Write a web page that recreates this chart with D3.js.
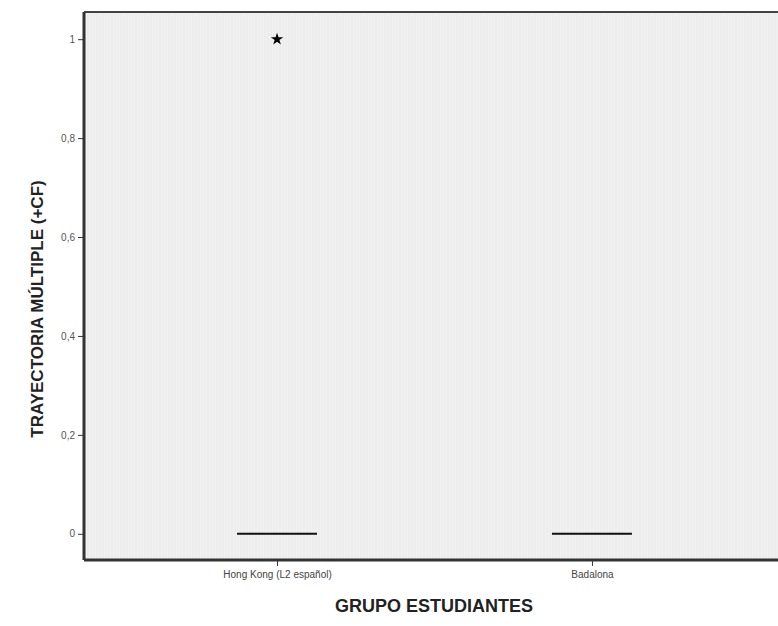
<!DOCTYPE html>
<html>
<head>
<meta charset="utf-8">
<script src="https://cdn.jsdelivr.net/npm/d3@7"></script>
<style>
  body { margin: 0; background: #fff; }
  svg { display: block; }
</style>
</head>
<body>
<svg width="778" height="626"></svg>
<script>
// groups and box stats (all zero except one extreme case)
var groups = ["Hong Kong (L2 español)", "Badalona"];
var q1 = [0, 0];
var median = [0, 0];
var q3 = [0, 0];
var whiskLo = [0, 0];
var whiskHi = [0, 0];
var extremes = [[1], []];
var yTicks = [0, 0.2, 0.4, 0.6, 0.8, 1];

var svg = d3.select("svg"),
  margin = { top: 12, right: -7, bottom: 66, left: 84 },
  width = +svg.attr("width") - margin.left - margin.right,
  height = +svg.attr("height") - margin.top - margin.bottom;

var x = d3.scalePoint().domain(groups).range([0, width]).padding(0.613),
    y = d3.scaleLinear().domain([-0.053, 1.055]).range([height, 0]);

var g = svg.append("g")
  .attr("transform", "translate(" + margin.left + "," + margin.top + ")");

// plot background
g.append("rect")
  .attr("width", width)
  .attr("height", height)
  .attr("fill", "#f1f1f1");

// faint vertical hatching
g.append("g").selectAll("line")
  .data(d3.range(1, width, 3))
  .enter().append("line")
  .attr("x1", function(d) { return d; })
  .attr("x2", function(d) { return d; })
  .attr("y1", 0)
  .attr("y2", height)
  .attr("stroke", "#e9e9e9")
  .attr("stroke-width", 1);

// top border
g.append("line")
  .attr("x1", 0).attr("x2", width)
  .attr("y1", 0).attr("y2", 0)
  .attr("stroke", "#444").attr("stroke-width", 2);

var boxW = 80;
var boxes = g.selectAll(".box").data(groups).enter().append("g").attr("class", "box");

boxes.append("line")
  .attr("x1", function(d) { return x(d); })
  .attr("x2", function(d) { return x(d); })
  .attr("y1", function(d, i) { return y(whiskLo[i]); })
  .attr("y2", function(d, i) { return y(whiskHi[i]); })
  .attr("stroke", "#222");

boxes.append("rect")
  .attr("x", function(d) { return x(d) - boxW / 2; })
  .attr("y", function(d, i) { return y(q3[i]); })
  .attr("width", boxW)
  .attr("height", function(d, i) { return y(q1[i]) - y(q3[i]); })
  .attr("fill", "none")
  .attr("stroke", "#222");

boxes.append("line")
  .attr("x1", function(d) { return x(d) - boxW / 2; })
  .attr("x2", function(d) { return x(d) + boxW / 2; })
  .attr("y1", function(d, i) { return y(median[i]); })
  .attr("y2", function(d, i) { return y(median[i]); })
  .attr("stroke", "#111")
  .attr("stroke-width", 2);

// extreme values as stars
boxes.each(function(d, i) {
  d3.select(this).selectAll(".ext")
    .data(extremes[i])
    .enter().append("path")
    .attr("class", "ext")
    .attr("d", d3.symbol().type(d3.symbolStar).size(48))
    .attr("transform", function(v) { return "translate(" + x(d) + "," + y(v) + ")"; })
    .attr("fill", "#000");
});

// axes
var yAxis = g.append("g")
  .call(d3.axisLeft(y).tickValues(yTicks).tickSize(6)
    .tickFormat(function(d) { return d3.format("~g")(d).replace(".", ","); }));
yAxis.select(".domain").remove();
yAxis.selectAll(".tick line").attr("stroke", "#333");
yAxis.selectAll("text").attr("fill", "#555").style("font-family", "Liberation Sans, Arial, sans-serif").style("font-size", "10px");

g.append("line")
  .attr("x1", 0).attr("x2", 0)
  .attr("y1", 0).attr("y2", height)
  .attr("stroke", "#333").attr("stroke-width", 3);

var xAxis = g.append("g")
  .attr("transform", "translate(0," + height + ")")
  .call(d3.axisBottom(x).tickSize(6).tickSizeOuter(0));
xAxis.select(".domain").remove();
xAxis.selectAll(".tick line").attr("stroke", "#333");
xAxis.selectAll("text").attr("fill", "#444").attr("dy", "0.9em").style("font-family", "Liberation Sans, Arial, sans-serif").style("font-size", "10px");

g.append("line")
  .attr("x1", 0).attr("x2", width)
  .attr("y1", height).attr("y2", height)
  .attr("stroke", "#333").attr("stroke-width", 3);

// titles
svg.append("text")
  .text("GRUPO ESTUDIANTES")
  .attr("x", 434)
  .attr("y", 612)
  .attr("text-anchor", "middle")
  .style("font-family", "Liberation Sans, Arial, sans-serif")
  .style("font-weight", "bold")
  .style("font-size", "18px")
  .attr("fill", "#222");

svg.append("text")
  .text("TRAYECTORIA MÚLTIPLE (+CF)")
  .attr("transform", "translate(43,309) rotate(-90)")
  .attr("text-anchor", "middle")
  .style("font-family", "Liberation Sans, Arial, sans-serif")
  .style("font-weight", "bold")
  .style("font-size", "17px")
  .attr("fill", "#222");
</script>
</body>
</html>
